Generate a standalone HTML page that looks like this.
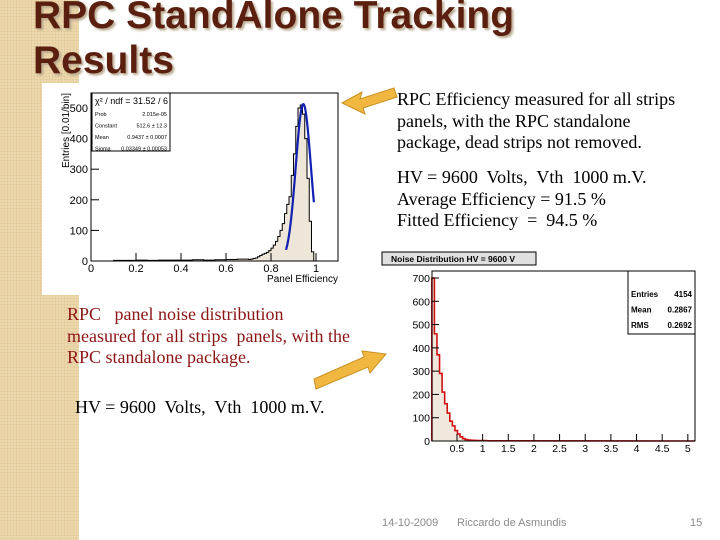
<!DOCTYPE html>
<html><head><meta charset="utf-8">
<style>
body{margin:0;width:720px;height:540px;overflow:hidden;background:#fff;position:relative;font-family:"Liberation Sans",sans-serif}
.strip{position:absolute;left:0;top:0;width:79px;height:540px;background:#ecd9b0;background-image:radial-gradient(#e2c895 1px,transparent 1px);background-size:3px 3px}
.title{position:absolute;left:33px;top:-7px;font:bold 39px/45px "Liberation Sans",sans-serif;color:#5a1f0e;text-shadow:2px 2px 2px #b9a990;margin:0}
.txt{position:absolute;font-family:"Liberation Serif",serif;font-size:18px;line-height:21.5px;white-space:nowrap}
.red{color:#8b1515}
.foot{position:absolute;top:517px;font-size:11px;color:#8a8a8a}
</style></head><body>
<div class="strip"></div>
<h1 class="title">RPC StandAlone Tracking<br>Results</h1>

<svg id="eff" style="position:absolute;left:0;top:0" width="720" height="540"></svg>

<div class="txt" style="left:397px;top:89px">RPC Efficiency measured for all strips<br>panels, with the RPC standalone<br>package, dead strips not removed.</div>
<div class="txt" style="left:397px;top:167px">HV = 9600&nbsp; Volts,&nbsp; Vth&nbsp; 1000 m.V.<br>Average Efficiency = 91.5 %<br>Fitted Efficiency&nbsp; =&nbsp; 94.5 %</div>
<div class="txt red" style="left:67px;top:304px">RPC&nbsp;&nbsp; panel noise distribution<br>measured for all strips&nbsp; panels, with the<br>RPC standalone package.</div>
<div class="txt" style="left:75px;top:397px">HV = 9600&nbsp; Volts,&nbsp; Vth&nbsp; 1000 m.V.</div>
<div class="foot" style="left:382px">14-10-2009</div>
<div class="foot" style="left:457px">Riccardo de Asmundis</div>
<div class="foot" style="left:690px">15</div>

<script>
// Efficiency histogram data
const effBinStarts=[0.10,0.15,0.20,0.25,0.30,0.35,0.40,0.45,0.50,0.55,0.60,0.65,0.70,0.71,0.72,0.73,0.74,0.75,0.76,0.77,0.78,0.79,0.80,0.81,0.82,0.83,0.84,0.85,0.86,0.87,0.88,0.89,0.90,0.91,0.92,0.93,0.94,0.95,0.96,0.97,0.98];
const effBinWidths=[0.05,0.05,0.05,0.05,0.05,0.05,0.05,0.05,0.05,0.05,0.05,0.05,0.01,0.01,0.01,0.01,0.01,0.01,0.01,0.01,0.01,0.01,0.01,0.01,0.01,0.01,0.01,0.01,0.01,0.01,0.01,0.01,0.01,0.01,0.01,0.01,0.01,0.01,0.01,0.01,0.01];
const effCounts=[2,2,3,2,3,3,3,4,3,4,5,6,5,6,8,10,14,18,22,25,28,34,42,52,64,80,100,122,155,185,210,280,350,440,500,510,480,400,270,130,30];
const effFit=[512.6,0.9437,0.0335]; // constant, mean, sigma
const effXTicks=[0,0.2,0.4,0.6,0.8,1];
const effYTicks=[0,100,200,300,400,500];
const effStats=[["Prob","2.015e-05"],["Constant","512.6 ± 12.3"],["Mean","0.9437 ± 0.0007"],["Sigma","0.03349 ± 0.00053"]];
// Noise histogram data (bins of 0.05)
const noiseBinStarts=[0.01,0.06,0.11,0.16,0.21,0.26,0.31,0.36,0.41,0.46,0.51,0.56,0.61,0.66,0.71,0.81,0.91,1.01,1.11,1.21,1.31];
const noiseCounts=[700,460,370,290,210,160,120,85,65,45,30,18,10,6,4,3,2,2,1,1,1];
const noiseXTicks=[0.5,1,1.5,2,2.5,3,3.5,4,4.5,5];
const noiseYTicks=[0,100,200,300,400,500,600,700];
const noiseStats=[["Entries","4154"],["Mean","0.2867"],["RMS","0.2692"]];

const NS="http://www.w3.org/2000/svg";
const svg=document.getElementById('eff');
function mk(tag,attrs,parent){const e=document.createElementNS(NS,tag);for(const k in attrs)e.setAttribute(k,attrs[k]);(parent||svg).appendChild(e);return e;}

// ---------- Efficiency panel ----------
const ex=v=>91+v*225, ey=v=>261-v*0.306;
const bg1=mk('rect',{x:42,y:83,width:303,height:212,fill:'#fff'});


let d='M'+ex(effBinStarts[0])+','+ey(0);
for(let i=0;i<effCounts.length;i++){const x0=ex(effBinStarts[i]),x1=ex(effBinStarts[i]+effBinWidths[i]),y=ey(effCounts[i]);d+=' L'+x0+','+y+' L'+x1+','+y;}
d+=' L'+ex(effBinStarts[effBinStarts.length-1]+0.01)+','+ey(0);
const effFill=mk('path',{d:d+' Z',fill:'#eee6d8',stroke:'#000','stroke-width':1});


let fd='';
for(let v=effFit[1]-2.3*effFit[2];v<=effFit[1]+1.45*effFit[2];v+=0.002){const y=effFit[0]*Math.exp(-0.5*Math.pow((v-effFit[1])/effFit[2],2));fd+=(fd?' L':'M')+ex(v)+','+ey(y);}
const fit=mk('path',{d:fd,fill:'none',stroke:'#1020b0','stroke-width':2.2});


const fr1=mk('rect',{x:91,y:93,width:247,height:168,fill:'none',stroke:'#000','stroke-width':1});


effXTicks.forEach(t=>{mk('line',{x1:ex(t),x2:ex(t),y1:261,y2:253,stroke:'#000'});
 const tx=mk('text',{x:ex(t),y:272,'font-size':11,'text-anchor':'middle',fill:'#000'});tx.textContent=t;
 });
effYTicks.forEach(t=>{mk('line',{x1:91,x2:99,y1:ey(t),y2:ey(t),stroke:'#000'});
 const tx=mk('text',{x:88,y:ey(t)+4,'font-size':11,'text-anchor':'end',fill:'#000'});tx.textContent=t;
 });
const xt=mk('text',{x:338,y:282,'font-size':10,'text-anchor':'end',fill:'#000'});xt.textContent='Panel Efficiency';

const yt=mk('text',{x:0,y:0,'font-size':10,'text-anchor':'end',fill:'#000',transform:'translate(69,93) rotate(-90)'});yt.textContent='Entries [0.01/bin]';

const sb=mk('rect',{x:92,y:93,width:78,height:58,fill:'#fff',stroke:'#000'});

const chi=mk('text',{x:95,y:104,'font-size':9,fill:'#000'});chi.textContent='χ² / ndf = 31.52 / 6';

effStats.forEach((s,i)=>{const y=116+i*11.5;
 const a=mk('text',{x:95,y:y,'font-size':5.5,fill:'#000'});a.textContent=s[0];
 
 const b=mk('text',{x:167,y:y,'font-size':5.5,'text-anchor':'end',fill:'#000'});b.textContent=s[1];
 });

// ---------- Noise panel ----------
const nx=v=>432+(v-0.013)*51.3, ny=v=>441-v*(163/700);
let nd='M'+nx(noiseBinStarts[0])+','+ny(0);
for(let i=0;i<noiseCounts.length;i++){const x0=nx(noiseBinStarts[i]),x1=nx(noiseBinStarts[i]+0.05),y=ny(noiseCounts[i]);nd+=' L'+x0+','+y+' L'+x1+','+y;}
nd+=' L'+nx(5.14)+','+ny(0);
const nf=mk('path',{d:nd,fill:'#f0e8dc',stroke:'#d01010','stroke-width':1.6});

const fr2=mk('rect',{x:432,y:271,width:263,height:170,fill:'none',stroke:'#000'});

noiseXTicks.forEach(t=>{mk('line',{x1:nx(t),x2:nx(t),y1:441,y2:434,stroke:'#000'});
 const tx=mk('text',{x:nx(t),y:452,'font-size':10.5,'text-anchor':'middle',fill:'#000'});tx.textContent=t;
 });
noiseYTicks.forEach(t=>{mk('line',{x1:432,x2:439,y1:ny(t),y2:ny(t),stroke:'#000'});
 const tx=mk('text',{x:430,y:ny(t)+4,'font-size':10.5,'text-anchor':'end',fill:'#000'});tx.textContent=t;
 });
const tb=mk('rect',{x:382,y:252,width:154,height:13,fill:'#e0e0e0',stroke:'#000'});

const tt=mk('text',{x:391,y:262,'font-size':8.5,'font-weight':'bold',fill:'#000'});tt.textContent='Noise Distribution HV = 9600 V';

const nb=mk('rect',{x:628,y:271,width:67,height:63,fill:'#fff',stroke:'#000'});

noiseStats.forEach((s,i)=>{const y=297+i*15.5;
 const a=mk('text',{x:631,y:y,'font-size':8,'font-weight':'bold',fill:'#000'});a.textContent=s[0];
 
 const b=mk('text',{x:692,y:y,'font-size':8,'font-weight':'bold','text-anchor':'end',fill:'#000'});b.textContent=s[1];
 });

// ---------- Arrows ----------
const a1=mk('polygon',{points:'342,103 362,92 360,99 394,88 397,97 363,108 365,114',fill:'#f0b840',stroke:'#c89020'});

const a2=mk('polygon',{points:'314,379 316,389 368,367 370,373 386,354 362,351 364,357',fill:'#f0b840',stroke:'#c89020'});

</script>
</body></html>
